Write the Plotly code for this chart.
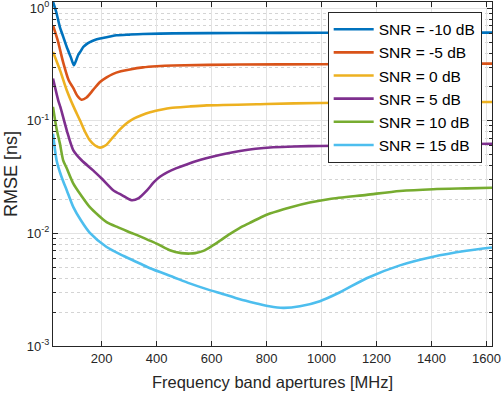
import plotly.graph_objects as go

# frequency band apertures [MHz] and RMSE [ns]
x_m10 = [23, 35, 48, 60, 73, 88, 99, 108, 115, 125, 133, 145, 157, 175, 194, 230, 255, 303, 350, 460, 700, 1000, 1300, 1620]
y_m10 = [1.14, 0.92, 0.68, 0.56, 0.452, 0.366, 0.311, 0.349, 0.386, 0.42, 0.452, 0.48, 0.50, 0.522, 0.537, 0.56, 0.575, 0.583, 0.590, 0.598, 0.602, 0.605, 0.606, 0.607]

x_m5 = [23, 40, 60, 80, 97, 112, 127, 145, 169, 194, 218, 240, 270, 303, 350, 400, 460, 700, 994, 1300, 1620]
y_m5 = [0.705, 0.52, 0.33, 0.229, 0.195, 0.166, 0.154, 0.161, 0.188, 0.221, 0.243, 0.260, 0.275, 0.286, 0.298, 0.305, 0.310, 0.316, 0.318, 0.320, 0.322]

x_0 = [23, 50, 73, 97, 121, 140, 157, 175, 194, 215, 242, 265, 291, 315, 345, 376, 420, 450, 520, 582, 800, 994, 1300, 1620]
y_0 = [0.408, 0.275, 0.187, 0.135, 0.101, 0.0795, 0.0671, 0.0606, 0.0578, 0.0606, 0.0718, 0.0830, 0.0950, 0.104, 0.112, 0.119, 0.126, 0.130, 0.134, 0.137, 0.141, 0.144, 0.146, 0.147]

x_5 = [23, 42, 50, 73, 97, 127, 169, 200, 242, 275, 309, 335, 364, 390, 412, 440, 470, 509, 560, 606, 650, 703, 760, 824, 900, 994, 1300, 1620]
y_5 = [0.237, 0.152, 0.132, 0.0824, 0.0547, 0.0446, 0.0363, 0.0307, 0.0242, 0.0218, 0.0197, 0.0206, 0.0240, 0.0285, 0.0318, 0.0350, 0.0378, 0.0410, 0.0450, 0.0482, 0.0510, 0.0540, 0.0565, 0.0582, 0.0592, 0.0598, 0.0612, 0.0626]

x_10 = [23, 36, 48, 60, 73, 97, 125, 157, 218, 260, 315, 400, 448, 490, 521, 540, 570, 600, 630, 667, 700, 739, 780, 812, 885, 957, 1030, 1164, 1285, 1406, 1527, 1620]
y_10 = [0.133, 0.085, 0.063, 0.0446, 0.0379, 0.0277, 0.0218, 0.0171, 0.0126, 0.0113, 0.00995, 0.00811, 0.00708, 0.00668, 0.00662, 0.00668, 0.0070, 0.0077, 0.0086, 0.0099, 0.0111, 0.0124, 0.0139, 0.0150, 0.0170, 0.0188, 0.0202, 0.0220, 0.0238, 0.0247, 0.0251, 0.0254]

x_15 = [23, 36, 48, 60, 73, 97, 125, 157, 218, 280, 339, 376, 460, 520, 582, 640, 703, 760, 810, 861, 921, 994, 1067, 1164, 1285, 1406, 1527, 1620]
y_15 = [0.0769, 0.0447, 0.0351, 0.029, 0.0242, 0.0171, 0.0130, 0.0101, 0.00757, 0.0063, 0.0054, 0.0049, 0.0041, 0.0036, 0.0032, 0.0029, 0.0026, 0.0024, 0.00225, 0.00218, 0.00225, 0.0025, 0.0030, 0.0040, 0.0052, 0.0062, 0.0070, 0.0075]

series = [
    ('SNR = -10 dB', x_m10, y_m10, '#0072BD'),
    ('SNR = -5 dB', x_m5, y_m5, '#D95319'),
    ('SNR = 0 dB', x_0, y_0, '#EDB120'),
    ('SNR = 5 dB', x_5, y_5, '#7E2F8E'),
    ('SNR = 10 dB', x_10, y_10, '#77AC30'),
    ('SNR = 15 dB', x_15, y_15, '#4DBEEE'),
]

x_ticks = [200, 400, 600, 800, 1000, 1200, 1400, 1600]
y_ticks = [1e-3, 1e-2, 1e-1, 1]
y_ticktext = ['10<sup>-3</sup>', '10<sup>-2</sup>', '10<sup>-1</sup>', '10<sup>0</sup>']
y_minor = [m * 10.0 ** e for e in (-3, -2, -1) for m in range(2, 10)]

fig = go.Figure()
for name, xs, ys, color in series:
    fig.add_trace(go.Scatter(
        x=xs, y=ys, name=name, mode='lines',
        line=dict(color=color, width=2.6, shape='spline', smoothing=0.7),
    ))

axis_color = '#262626'
font = 'Liberation Sans, Arial, Helvetica, sans-serif'

fig.update_layout(
    width=502,
    height=394,
    margin=dict(l=53, r=10, t=2, b=48),
    plot_bgcolor='white',
    paper_bgcolor='white',
    font=dict(family=font, size=13, color=axis_color),
    showlegend=True,
    legend=dict(
        x=0.9765, y=0.972, xanchor='right', yanchor='top',
        bgcolor='white', bordercolor=axis_color, borderwidth=1,
        font=dict(size=15.5, color='black'), itemwidth=40,
    ),
    xaxis=dict(
        range=[23, 1620],
        tickvals=x_ticks,
        ticks='inside', ticklen=5, tickcolor=axis_color,
        showline=True, linecolor=axis_color, linewidth=1, mirror='ticks',
        showgrid=True, gridcolor='#e3e3e3', gridwidth=1,
        zeroline=False, automargin=False, ticklabeloverflow='allow',
        title=dict(text='Frequency band apertures [MHz]', font=dict(size=16.5), standoff=11),
    ),
    yaxis=dict(
        type='log',
        range=[-3, 0.055],
        tickvals=y_ticks, ticktext=y_ticktext,
        ticks='inside', ticklen=5, tickcolor=axis_color,
        showline=True, linecolor=axis_color, linewidth=1, mirror='ticks',
        showgrid=True, gridcolor='#e3e3e3', gridwidth=1,
        zeroline=False, automargin=False, ticklabeloverflow='allow',
        minor=dict(tickvals=y_minor, ticks='inside', ticklen=3, tickcolor=axis_color,
                   showgrid=True, gridcolor='#d4d4d4', griddash='dot', gridwidth=1),
        title=dict(text='RMSE [ns]', font=dict(size=18), standoff=4),
    ),
)

# the page body has a default 8px margin; drop it so the figure fills the window
fig.write_html('out.html', config={'displayModeBar': False},
               post_script="document.body.style.margin='0';")
